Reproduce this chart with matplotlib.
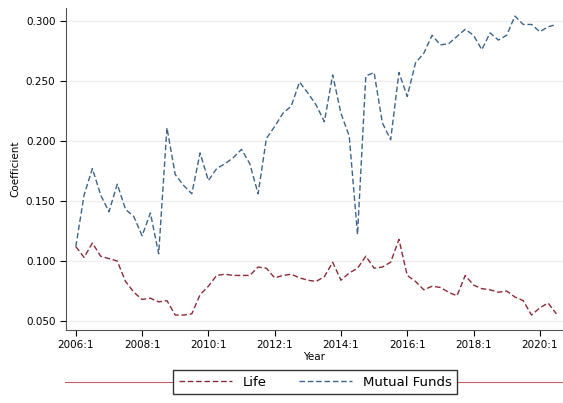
import numpy as np
import matplotlib.pyplot as plt

# quarterly, 2006:1 .. 2020:3
life = [0.112, 0.103, 0.115, 0.104, 0.102, 0.100, 0.083, 0.074, 0.068, 0.069,
        0.066, 0.067, 0.055, 0.055, 0.056, 0.072, 0.079, 0.088, 0.089, 0.088,
        0.088, 0.088, 0.095, 0.094, 0.086, 0.088, 0.089, 0.086, 0.084, 0.083,
        0.087, 0.099, 0.084, 0.090, 0.094, 0.104, 0.094, 0.095, 0.099, 0.118,
        0.088, 0.083, 0.076, 0.079, 0.078, 0.074, 0.071, 0.088, 0.080, 0.077,
        0.076, 0.074, 0.075, 0.070, 0.067, 0.055, 0.061, 0.065, 0.056]
mutual = [0.112, 0.155, 0.177, 0.155, 0.141, 0.164, 0.143, 0.137, 0.121, 0.140,
          0.106, 0.211, 0.172, 0.163, 0.156, 0.190, 0.167, 0.177, 0.181, 0.186,
          0.193, 0.181, 0.156, 0.202, 0.212, 0.223, 0.229, 0.249, 0.240, 0.230,
          0.216, 0.255, 0.223, 0.204, 0.122, 0.254, 0.257, 0.215, 0.201, 0.257,
          0.237, 0.265, 0.273, 0.288, 0.280, 0.281, 0.287, 0.293, 0.288, 0.276,
          0.290, 0.284, 0.288, 0.304, 0.297, 0.297, 0.291, 0.295, 0.297]
xticklabels = ['2006:1', '2008:1', '2010:1', '2012:1', '2014:1', '2016:1', '2018:1', '2020:1']
yticks = [0.05, 0.10, 0.15, 0.20, 0.25, 0.30]

q = np.arange(len(life))

fig = plt.figure(figsize=(5.63, 4.03), dpi=100)
ax = fig.add_axes([0.117, 0.181, 0.883, 0.8])

l1, = ax.plot(q, life, color='#8B2A36', ls=(0, (4, 2)), lw=1.0, label='Life')
l2, = ax.plot(q, mutual, color='#3E6487', ls=(0, (4, 2)), lw=1.0, label='Mutual Funds')

ax.set_xlim(-1.2, 58.8)
ax.set_ylim(0.0425, 0.311)
ax.set_xticks(np.arange(0, 57, 8))
ax.set_xticklabels(xticklabels)
ax.set_yticks(yticks)
ax.set_yticklabels(['%.3f' % v for v in yticks])
ax.tick_params(labelsize=7.5, length=4, width=0.8)
ax.grid(axis='y', color='#eeeeee', lw=1)
ax.set_axisbelow(True)
for s in ['top', 'right']:
    ax.spines[s].set_visible(False)
ax.spines['left'].set_color('#555555')
ax.spines['bottom'].set_color('#555555')
ax.set_xlabel('Year', fontsize=7.5, labelpad=1)
ax.set_ylabel('Coefficient', fontsize=7.5)

# line behind the legend
fig.add_artist(plt.Line2D([65/563, 1.0], [1 - 382/403] * 2, color='#c06060', lw=0.8))
leg = fig.legend(handles=[l1, l2], loc='center', bbox_to_anchor=(0.56, 1 - 382/403),
                 ncol=2, fontsize=9.5, frameon=True, fancybox=False, handlelength=4,
                 columnspacing=2.5, borderpad=0.45)
leg.get_frame().set_edgecolor('#333333')
leg.get_frame().set_alpha(1)

fig.savefig('out.png')
